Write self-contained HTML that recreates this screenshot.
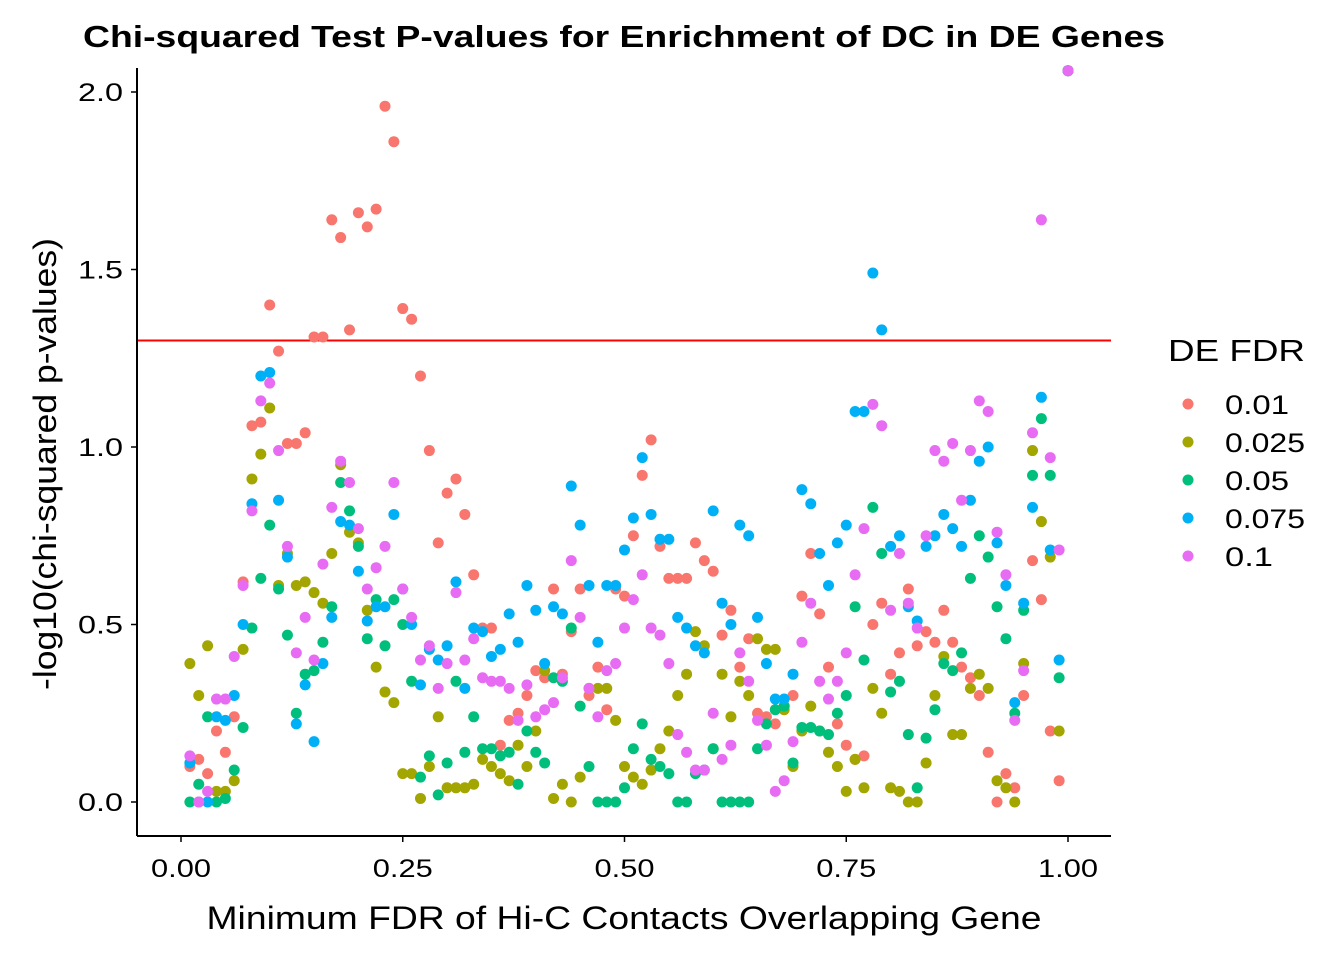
<!DOCTYPE html>
<html><head><meta charset="utf-8"><style>
body{margin:0;background:#fff;}
svg{display:block;font-family:"Liberation Sans",Arial,sans-serif;}
</style></head><body>
<svg id="chart" width="1344" height="960">
<text x="624" y="47" text-anchor="middle" font-size="31" font-weight="bold" textLength="1082" lengthAdjust="spacingAndGlyphs">Chi-squared Test P-values for Enrichment of DC in DE Genes</text>
<g id="marks"></g>
<g id="axes"></g>
<text x="624" y="929" text-anchor="middle" font-size="32" textLength="835" lengthAdjust="spacingAndGlyphs">Minimum FDR of Hi-C Contacts Overlapping Gene</text>
<text transform="translate(56,464) rotate(-90)" text-anchor="middle" font-size="32" textLength="452" lengthAdjust="spacingAndGlyphs">-log10(chi-squared p-values)</text>
<g id="legend"></g>
</svg>
<script>
const seriesNames=["0.01","0.025","0.05","0.075","0.1"];
const seriesColors=["#F8766D","#A3A500","#00BF7D","#00B0F6","#E76BF3"];
const xTicks=[0,0.25,0.5,0.75,1];
const xTickLabels=["0.00","0.25","0.50","0.75","1.00"];
const yTicks=[0,0.5,1,1.5,2];
const yTickLabels=["0.0","0.5","1.0","1.5","2.0"];
const threshold=1.3;
const red=[0.10,0.12,0.08,0.2,0.14,0.24,0.62,1.06,1.07,1.40,1.27,1.01,1.01,1.04,1.31,1.31,1.64,1.59,1.33,1.66,1.62,1.67,1.96,1.86,1.39,1.36,1.2,0.99,0.73,0.87,0.91,0.81,0.64,0.49,0.49,0.16,0.23,0.25,0.3,0.37,0.35,0.6,0.36,0.48,0.6,0.3,0.38,0.26,0.6,0.58,0.75,0.92,1.02,0.72,0.63,0.63,0.63,0.73,0.68,0.65,0.47,0.54,0.38,0.46,0.25,0.24,0.22,0.27,0.3,0.58,0.7,0.53,0.38,0.22,0.16,0.12,0.13,0.5,0.56,0.36,0.42,0.6,0.44,0.48,0.45,0.54,0.45,0.38,0.35,0.30,0.14,0,0.08,0.04,0.3,0.68,0.57,0.2,0.06,2.06];
const olive=[0.39,0.30,0.44,0.03,0.03,0.06,0.43,0.91,0.98,1.11,0.61,0.7,0.61,0.62,0.59,0.56,0.70,0.95,0.76,0.73,0.54,0.38,0.31,0.28,0.08,0.08,0.01,0.1,0.24,0.04,0.04,0.04,0.05,0.12,0.1,0.08,0.06,0.16,0.1,0.2,0.37,0.01,0.05,0,0.07,0.32,0.32,0.32,0.23,0.1,0.07,0.05,0.09,0.15,0.2,0.3,0.36,0.48,0.44,0.15,0.36,0.24,0.34,0.3,0.46,0.43,0.43,0.26,0.1,0.2,0.27,0.2,0.14,0.1,0.03,0.12,0.04,0.32,0.25,0.04,0.03,0,0,0.11,0.3,0.41,0.19,0.19,0.32,0.36,0.32,0.06,0.04,0,0.39,0.99,0.79,0.69,0.2,2.06];
const green=[0,0.05,0.24,0,0.01,0.09,0.21,0.49,0.63,0.78,0.6,0.47,0.25,0.36,0.37,0.45,0.55,0.90,0.82,0.72,0.46,0.57,0.44,0.57,0.5,0.34,0.07,0.13,0.02,0.11,0.34,0.14,0.24,0.15,0.15,0.13,0.14,0.05,0.2,0.14,0.11,0.35,0.34,0.49,0.27,0.1,0,0,0,0.04,0.15,0.22,0.12,0.1,0.08,0,0,0.08,0.09,0.15,0,0,0,0,0.15,0.22,0.26,0.27,0.11,0.21,0.21,0.2,0.19,0.25,0.3,0.55,0.4,0.83,0.7,0.31,0.34,0.19,0.04,0.18,0.26,0.39,0.37,0.42,0.63,0.75,0.69,0.55,0.46,0.25,0.54,0.92,1.08,0.92,0.35,2.06];
const blue=[0.11,0,0,0.24,0.23,0.3,0.5,0.84,1.2,1.21,0.85,0.69,0.22,0.33,0.17,0.39,0.52,0.79,0.78,0.65,0.51,0.55,0.55,0.81,0.6,0.5,0.33,0.43,0.4,0.44,0.62,0.32,0.49,0.48,0.41,0.43,0.53,0.45,0.61,0.54,0.39,0.55,0.53,0.89,0.78,0.61,0.45,0.61,0.61,0.71,0.8,0.97,0.81,0.74,0.74,0.52,0.49,0.44,0.42,0.82,0.56,0.5,0.78,0.75,0.52,0.39,0.29,0.29,0.36,0.88,0.84,0.70,0.61,0.73,0.78,1.1,1.1,1.49,1.33,0.72,0.75,0.55,0.51,0.72,0.75,0.81,0.77,0.72,0.85,0.96,1.0,0.73,0.61,0.28,0.56,0.83,1.14,0.71,0.4,2.06];
const purple=[0.13,0,0.03,0.29,0.29,0.41,0.61,0.82,1.13,1.18,0.99,0.72,0.42,0.52,0.40,0.67,0.83,0.96,0.9,0.77,0.6,0.66,0.72,0.9,0.6,0.52,0.4,0.44,0.32,0.39,0.59,0.4,0.46,0.35,0.34,0.34,0.32,0.23,0.33,0.24,0.26,0.28,0.35,0.68,0.52,0.32,0.24,0.37,0.39,0.49,0.57,0.64,0.49,0.47,0.39,0.19,0.14,0.09,0.09,0.25,0.12,0.16,0.42,0.34,0.23,0.16,0.03,0.06,0.17,0.45,0.56,0.34,0.29,0.34,0.42,0.64,0.77,1.12,1.06,0.54,0.70,0.56,0.49,0.75,0.99,0.96,1.01,0.85,0.99,1.13,1.1,0.76,0.64,0.23,0.37,1.04,1.64,0.97,0.71,2.06];
const series=[red,olive,green,blue,purple];

const NS="http://www.w3.org/2000/svg";
const L=137,R=1111,T=68,B=836;
function xs(v){return 181+v*887;}
function ys(v){return 802-v*355;}
function mk(tag,attrs,parent){const e=document.createElementNS(NS,tag);for(const k in attrs)e.setAttribute(k,attrs[k]);parent.appendChild(e);return e;}
const marks=document.getElementById('marks');
const axes=document.getElementById('axes');
const legend=document.getElementById('legend');
const th=mk('line',{x1:L,x2:R,y1:ys(threshold),y2:ys(threshold),stroke:'#FF0000','stroke-width':2},marks);


series.forEach((arr,s)=>{
  arr.forEach((v,i)=>{
    const c=mk('circle',{cx:xs((i+1)/100),cy:ys(v),r:5.5,fill:seriesColors[s]},marks);
    
    
  });
});
const ya=mk('line',{x1:L,x2:L,y1:T,y2:B,stroke:'#000','stroke-width':2},axes);


const xa=mk('line',{x1:L,x2:R,y1:B,y2:B,stroke:'#000','stroke-width':2},axes);


yTicks.forEach((v,i)=>{
  const y=ys(v);
  mk('line',{x1:L-6,x2:L,y1:y,y2:y,stroke:'#000','stroke-width':1.5},axes);
  const t=mk('text',{x:L-14,y:y+9,'text-anchor':'end','font-size':25,textLength:45,lengthAdjust:'spacingAndGlyphs'},axes);
  t.textContent=yTickLabels[i];
  
  
});
xTicks.forEach((v,i)=>{
  const x=xs(v);
  mk('line',{x1:x,x2:x,y1:B,y2:B+6,stroke:'#000','stroke-width':1.5},axes);
  const t=mk('text',{x:x,y:B+41,'text-anchor':'middle','font-size':25,textLength:60,lengthAdjust:'spacingAndGlyphs'},axes);
  t.textContent=xTickLabels[i];
  
  
});
const lt=mk('text',{x:1168,y:361,'font-size':31,textLength:137,lengthAdjust:'spacingAndGlyphs'},legend);
lt.textContent='DE FDR';


seriesNames.forEach((n,i)=>{
  const y=404+i*38;
  const c=mk('circle',{cx:1188,cy:y,r:5.5,fill:seriesColors[i]},legend);
  
  
  const t=mk('text',{x:1225,y:y+10,'font-size':27,textLength:n.length*16,lengthAdjust:'spacingAndGlyphs'},legend);
  t.textContent=n;
  
  
});
</script>
</body></html>
